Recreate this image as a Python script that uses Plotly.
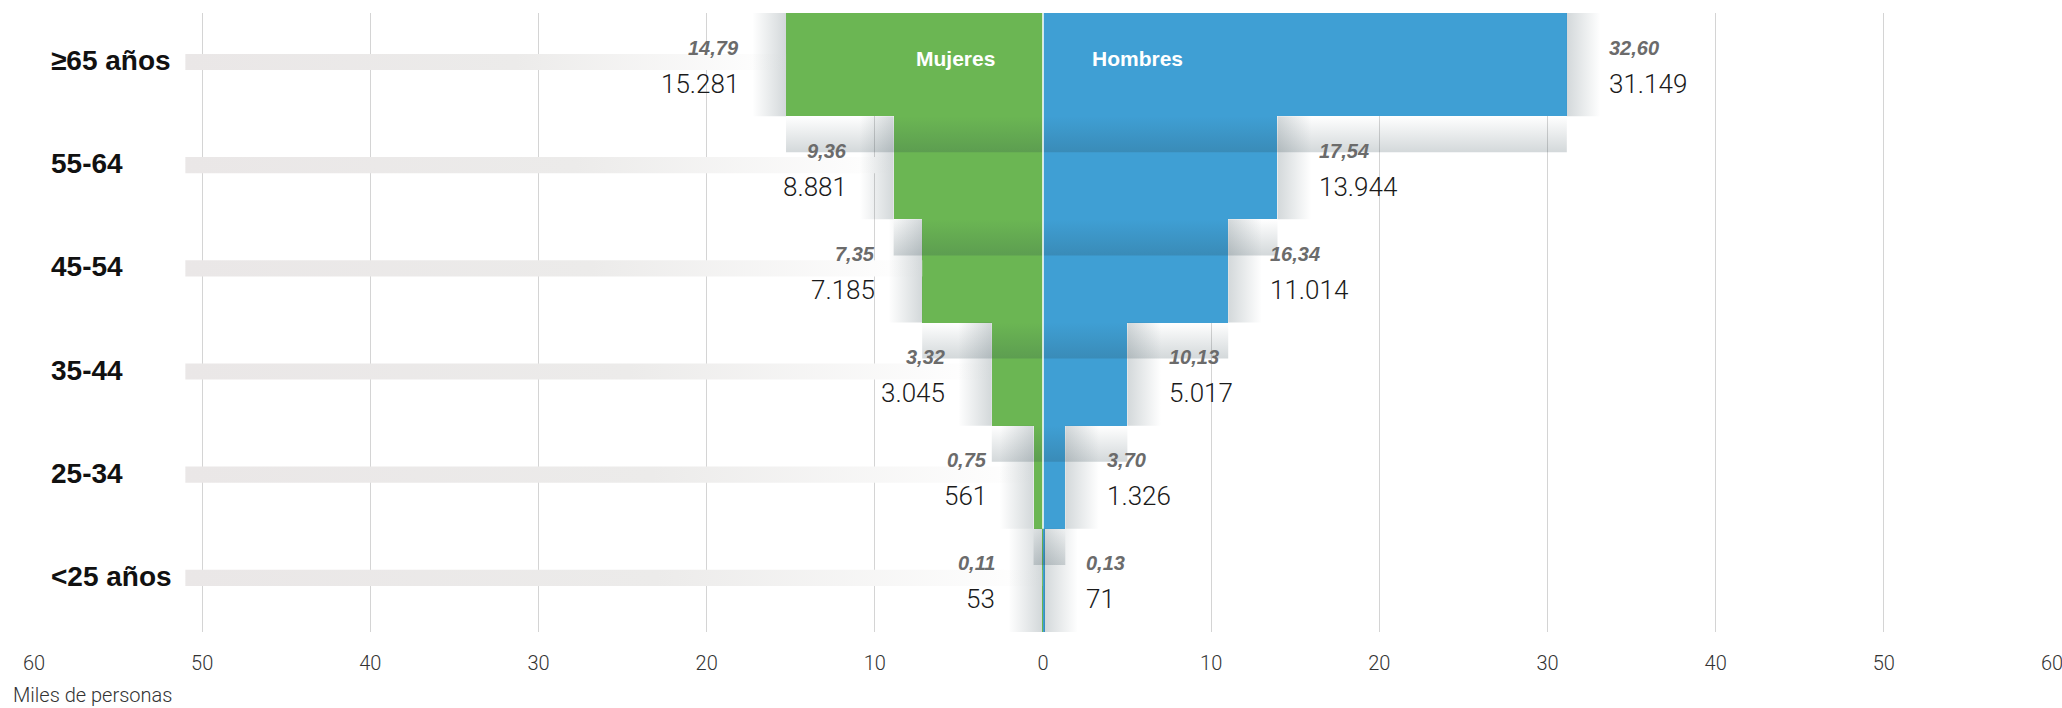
import plotly.graph_objects as go

# Población por grupo de edad (miles de personas), de arriba a abajo
grupos = ["≥65 años", "55-64", "45-54", "35-44", "25-34", "<25 años"]
mujeres = [15.281, 8.881, 7.185, 3.045, 0.561, 0.053]
hombres = [31.149, 13.944, 11.014, 5.017, 1.326, 0.071]
pct_mujeres = [14.79, 9.36, 7.35, 3.32, 0.75, 0.11]
pct_hombres = [32.60, 17.54, 16.34, 10.13, 3.70, 0.13]
ticks = [-60, -50, -40, -30, -20, -10, 0, 10, 20, 30, 40, 50, 60]

GREEN = "#6bb653"
BLUE = "#3f9fd4"
SHADOW = "rgba(35,60,70,{a})"
TRACK_LEFT = -51


def miles(v):
    return f"{round(v * 1000):,}".replace(",", ".")


def coma(p):
    return f"{p:.2f}".replace(".", ",")


pos = list(range(len(grupos)))
fig = go.Figure()

# franjas grises de fondo
for i, m in zip(pos, mujeres):
    yc, h = i - 0.025, 0.078
    fig.add_trace(go.Scatter(
        x=[TRACK_LEFT, -m, -m, TRACK_LEFT, TRACK_LEFT],
        y=[yc - h, yc - h, yc + h, yc + h, yc - h],
        fill="toself", mode="none", hoverinfo="skip", showlegend=False,
        fillgradient=dict(type="horizontal",
                          colorscale=[[0, "#eae7e7"], [0.55, "#ecebea"], [1, "#ffffff"]]),
    ))

# barras
fig.add_trace(go.Bar(y=pos, x=[-m for m in mujeres], orientation="h", width=1,
                     marker=dict(color=GREEN, line_width=0), name="Mujeres",
                     showlegend=False))
fig.add_trace(go.Bar(y=pos, x=hombres, orientation="h", width=1,
                     marker=dict(color=BLUE, line_width=0), name="Hombres",
                     showlegend=False))

# sombras suaves
side = dict(fill="toself", mode="none", hoverinfo="skip", showlegend=False)
for i in pos:
    m, h = mujeres[i], hombres[i]
    fig.add_trace(go.Scatter(
        x=[h, h + 2.0, h + 2.0, h, h], y=[i - 0.5, i - 0.5, i + 0.5, i + 0.5, i - 0.5],
        fillgradient=dict(type="horizontal",
                          colorscale=[[0, SHADOW.format(a=0.2)], [1, SHADOW.format(a=0)]]),
        **side))
    fig.add_trace(go.Scatter(
        x=[-m - 2.0, -m, -m, -m - 2.0, -m - 2.0], y=[i - 0.5, i - 0.5, i + 0.5, i + 0.5, i - 0.5],
        fillgradient=dict(type="horizontal",
                          colorscale=[[0, SHADOW.format(a=0)], [1, SHADOW.format(a=0.2)]]),
        **side))
    if i + 1 < len(pos):
        y0, y1 = i + 0.5, i + 0.85
        fig.add_trace(go.Scatter(
            x=[-m, h, h, -m, -m], y=[y0, y0, y1, y1, y0],
            fillgradient=dict(type="vertical",
                              colorscale=[[0, SHADOW.format(a=0.2)], [1, SHADOW.format(a=0)]]),
            **side))

ann = []
for i, g in enumerate(grupos):
    ann.append(dict(x=-60, y=i, xref="x", yref="y", text=g, showarrow=False,
                    xanchor="left", xshift=15, yshift=4,
                    font=dict(family="Liberation Sans", size=28, color="#111", weight="bold")))
    for sign, val, pct, anchor, shift in [(-1, mujeres[i], pct_mujeres[i], "right", -45),
                                          (1, hombres[i], pct_hombres[i], "left", 40)]:
        ann.append(dict(x=sign * val, y=i, xref="x", yref="y", text=coma(pct),
                        showarrow=False, xanchor=anchor, xshift=shift, yshift=17,
                        font=dict(family="Liberation Sans", size=20, color="#6b6b6b",
                                  weight="bold", style="italic")))
        ann.append(dict(x=sign * val, y=i, xref="x", yref="y", text=miles(val),
                        showarrow=False, xanchor=anchor, xshift=shift, yshift=-19,
                        font=dict(family="Roboto", size=26, color="#1a1a1a", weight=300)))

ann.append(dict(x=0, y=0, xref="x", yref="y", text="Mujeres", showarrow=False,
                xanchor="right", xshift=-46, yshift=6,
                font=dict(family="Liberation Sans", size=21, color="white", weight="bold")))
ann.append(dict(x=0, y=0, xref="x", yref="y", text="Hombres", showarrow=False,
                xanchor="left", xshift=47, yshift=6,
                font=dict(family="Liberation Sans", size=21, color="white", weight="bold")))
ann.append(dict(x=-60, y=0, xref="x", yref="paper", text="Miles de personas",
                showarrow=False, xanchor="left", yanchor="middle", xshift=-23, yshift=-63,
                font=dict(family="Roboto", size=20, color="#333", weight=300)))

fig.update_layout(
    width=2062, height=708,
    margin=dict(l=34, r=10, t=13, b=76, autoexpand=False),
    paper_bgcolor="white", plot_bgcolor="white",
    barmode="overlay", bargap=0,
    annotations=ann,
    shapes=[dict(type="line", xref="x", yref="y", x0=0, x1=0,
                 y0=-0.5, y1=len(pos) - 1.5, line=dict(color="white", width=1.5))],
    xaxis=dict(range=[-60, 60], tickvals=ticks, ticktext=[str(abs(t)) for t in ticks],
               showgrid=True, gridcolor="rgba(0,0,0,0.17)", gridwidth=1,
               zeroline=False, showline=False, ticks="", layer="above traces",
               automargin=False, ticklabelstandoff=17, ticklabeloverflow="allow",
               tickfont=dict(family="Roboto", size=20, color="#333", weight=300)),
    yaxis=dict(range=[len(pos) - 0.5, -0.5], showgrid=False, zeroline=False,
               showticklabels=False, ticks="", automargin=False),
)

fig.write_html("out.html", config={"displayModeBar": False},
               post_script="document.body.style.margin='0';document.body.style.overflow='hidden';")
